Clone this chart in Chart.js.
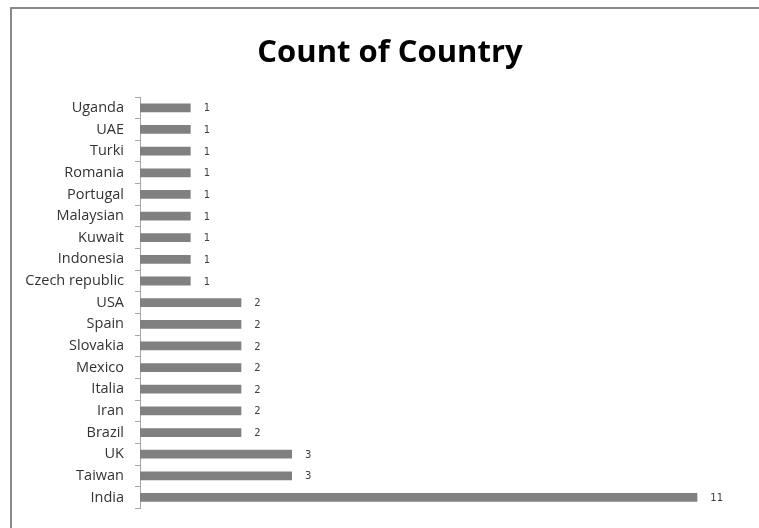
<!DOCTYPE html>
<html>
<head>
<meta charset="utf-8">
<script src="https://cdn.jsdelivr.net/npm/chart.js@4.4.0/dist/chart.umd.min.js"></script>
<style>
  html, body { margin: 0; padding: 0; background: #fff; }
  #wrap { width: 759px; height: 528px; position: relative; }
</style>
</head>
<body>
<div id="wrap"><canvas id="chart"></canvas></div>
<script>
const countries = ['Uganda', 'UAE', 'Turki', 'Romania', 'Portugal', 'Malaysian', 'Kuwait', 'Indonesia',
  'Czech republic', 'USA', 'Spain', 'Slovakia', 'Mexico', 'Italia', 'Iran', 'Brazil', 'UK', 'Taiwan', 'India'];
const counts = [1, 1, 1, 1, 1, 1, 1, 1, 1, 2, 2, 2, 2, 2, 2, 2, 3, 3, 11];
const xMin = 0;
const xMax = 12;
const chartTitle = 'Count of Country';

// frame lines (only top and left edges are visible in the crop) + title
const framePlugin = {
  id: 'frame',
  beforeDraw(chart) {
    const ctx = chart.ctx;
    ctx.save();
    ctx.fillStyle = '#ffffff';
    ctx.fillRect(0, 0, chart.width, chart.height);
    ctx.strokeStyle = '#898989';
    ctx.lineWidth = 2;
    ctx.beginPath();
    ctx.moveTo(11, chart.height);
    ctx.lineTo(11, 8);
    ctx.lineTo(chart.width, 8);
    ctx.stroke();

    ctx.fillStyle = '#000000';
    ctx.font = 'bold 31px "Open Sans"';
    ctx.textAlign = 'center';
    ctx.textBaseline = 'middle';
    ctx.fillText(chartTitle, 390, 53);
    ctx.restore();
  }
};

// value labels to the right of each bar
const valueLabels = {
  id: 'valueLabels',
  afterDatasetsDraw(chart) {
    const ctx = chart.ctx;
    const meta = chart.getDatasetMeta(0);
    ctx.save();
    ctx.font = '10px "DejaVu Sans"';
    ctx.fillStyle = '#404040';
    ctx.textAlign = 'left';
    ctx.textBaseline = 'middle';
    meta.data.forEach((bar, i) => {
      ctx.fillText(String(counts[i]), bar.x + 13, bar.y + 1);
    });
    ctx.restore();
  }
};

new Chart(document.getElementById('chart'), {
  type: 'bar',
  data: {
    labels: countries,
    datasets: [{
      data: counts,
      backgroundColor: '#808080',
      borderWidth: 0,
      barPercentage: 0.45,
      categoryPercentage: 0.9
    }]
  },
  options: {
    indexAxis: 'y',
    responsive: true,
    maintainAspectRatio: false,
    animation: false,
    layout: { padding: { left: 0, right: 11, top: 97, bottom: 18 } },
    plugins: {
      legend: { display: false },
      tooltip: { enabled: false },
      title: { display: false }
    },
    scales: {
      x: {
        display: false,
        min: xMin,
        max: xMax
      },
      y: {
        offset: true,
        afterFit(scale) { scale.width = 140; },
        border: { display: true, color: '#a6a6a6', width: 1 },
        grid: {
          offset: true,
          drawOnChartArea: false,
          drawTicks: true,
          tickLength: 5,
          color: '#a6a6a6'
        },
        ticks: {
          color: '#333333',
          padding: 11,
          font: { family: '"Open Sans"', size: 14.5 }
        }
      }
    }
  },
  plugins: [framePlugin, valueLabels]
});
</script>
</body>
</html>
